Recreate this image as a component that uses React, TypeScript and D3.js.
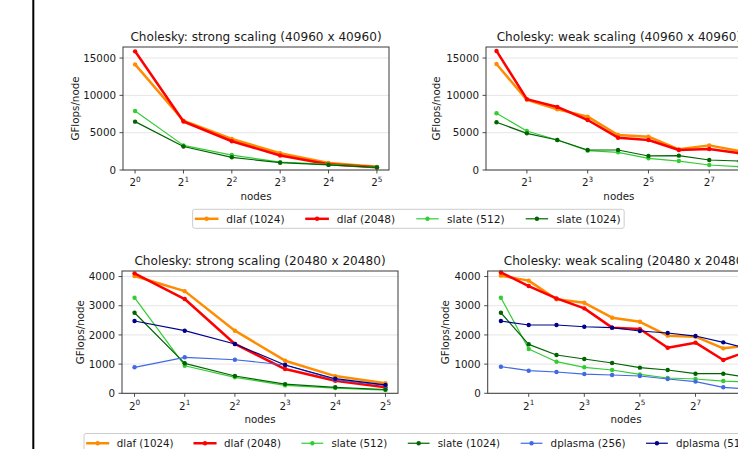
import React from 'react';
import * as d3 from 'd3';

const FONT = "'DejaVu Sans', 'Liberation Sans', sans-serif";

// ---- series meta ----
const seriesNames = ['dlaf (1024)', 'dlaf (2048)', 'slate (512)', 'slate (1024)', 'dplasma (256)', 'dplasma (512)'];
const seriesColors = ['#ff8c00', '#ff0000', '#32cd32', '#006400', '#4169e1', '#00008b'];
const seriesWidths = [2.5, 2.5, 1.2, 1.2, 1.2, 1.2];

// ---- x values (nodes) ----
const strongNodes = [1, 2, 4, 8, 16, 32];
const weak40Nodes = [1, 2, 4, 8, 16, 32, 64, 128, 256];
const weak20Nodes = [1, 2, 4, 8, 16, 32, 64, 128, 256, 512];

// ---- tick values ----
const strongXTicks = [1, 2, 4, 8, 16, 32];
const weak40XTicks = [2, 8, 32, 128];
const weak20XTicks = [2, 8, 32, 128];
const yTicks40 = [0, 5000, 10000, 15000];
const yTicks20 = [0, 1000, 2000, 3000, 4000];

// ---- Cholesky strong scaling (40960 x 40960) ----
const strong40_dlaf1024 = [14150, 6600, 4150, 2250, 950, 420];
const strong40_dlaf2048 = [15900, 6500, 3850, 1950, 780, 370];
const strong40_slate512 = [7900, 3300, 2000, 1050, 750, 380];
const strong40_slate1024 = [6480, 3150, 1700, 980, 680, 340];

// ---- Cholesky weak scaling (40960 x 40960) ----
const weak40_dlaf1024 = [14200, 9400, 8130, 7150, 4690, 4470, 2770, 3300, 2550];
const weak40_dlaf2048 = [15950, 9500, 8450, 6700, 4330, 4020, 2680, 2810, 2240];
const weak40_slate512 = [7600, 5230, 4020, 2590, 2370, 1560, 1200, 670, 440];
const weak40_slate1024 = [6390, 4910, 4020, 2680, 2680, 1880, 1920, 1340, 1200];

// ---- Cholesky strong scaling (20480 x 20480) ----
const strong20_dlaf1024 = [4020, 3500, 2145, 1117, 590, 342];
const strong20_dlaf2048 = [4110, 3230, 1690, 830, 430, 205];
const strong20_slate512 = [3275, 945, 548, 270, 180, 110];
const strong20_slate1024 = [2760, 1027, 592, 315, 205, 130];
const strong20_dplasma256 = [890, 1233, 1150, 970, 470, 270];
const strong20_dplasma512 = [2477, 2145, 1690, 970, 500, 290];

// ---- Cholesky weak scaling (20480 x 20480) ----
const weak20_dlaf1024 = [4030, 3860, 3220, 3100, 2590, 2450, 1975, 1940, 1540, 1650];
const weak20_dlaf2048 = [4140, 3675, 3250, 2910, 2250, 2200, 1560, 1735, 1140, 1480];
const weak20_slate512 = [3275, 1517, 1083, 890, 798, 650, 525, 490, 420, 380];
const weak20_slate1024 = [2760, 1678, 1312, 1175, 1038, 878, 798, 672, 672, 530];
const weak20_dplasma256 = [912, 775, 730, 660, 627, 593, 490, 400, 205, 140];
const weak20_dplasma512 = [2477, 2340, 2340, 2280, 2250, 2135, 2065, 1962, 1745, 1500];

type PanelSpec = {
  title: string;
  left: number; right: number; top: number; bottom: number;
  expMin: number; expMax: number;
  yMax: number;
  yTicks: number[];
  xTicks: number[];
  nodes: number[];
  series: number[][];
  ylabelOffset: number;
};

const panels: PanelSpec[] = [
  {
    title: 'Cholesky: strong scaling (40960 x 40960)',
    left: 123, right: 389, top: 47, bottom: 170,
    expMin: -0.25, expMax: 5.25, yMax: 16480, yTicks: yTicks40, xTicks: strongXTicks,
    nodes: strongNodes,
    series: [strong40_dlaf1024, strong40_dlaf2048, strong40_slate512, strong40_slate1024],
    ylabelOffset: 44.5,
  },
  {
    title: 'Cholesky: weak scaling (40960 x 40960)',
    left: 486, right: 751.8, top: 47, bottom: 170,
    expMin: -0.345, expMax: 8.4, yMax: 16480, yTicks: yTicks40, xTicks: weak40XTicks,
    nodes: weak40Nodes,
    series: [weak40_dlaf1024, weak40_dlaf2048, weak40_slate512, weak40_slate1024],
    ylabelOffset: 45.6,
  },
  {
    title: 'Cholesky: strong scaling (20480 x 20480)',
    left: 122, right: 398, top: 271, bottom: 393.3,
    expMin: -0.25, expMax: 5.25, yMax: 4190, yTicks: yTicks20, xTicks: strongXTicks,
    nodes: strongNodes,
    series: [strong20_dlaf1024, strong20_dlaf2048, strong20_slate512, strong20_slate1024, strong20_dplasma256, strong20_dplasma512],
    ylabelOffset: 38.3,
  },
  {
    title: 'Cholesky: weak scaling (20480 x 20480)',
    left: 487.7, right: 764.3, top: 271, bottom: 393.3,
    expMin: -0.475, expMax: 9.475, yMax: 4190, yTicks: yTicks20, xTicks: weak20XTicks,
    nodes: weak20Nodes,
    series: [weak20_dlaf1024, weak20_dlaf2048, weak20_slate512, weak20_slate1024, weak20_dplasma256, weak20_dplasma512],
    ylabelOffset: 39,
  },
];

let _ctx: CanvasRenderingContext2D | null = null;
function textWidth(s: string, size: number): number {
  if (!_ctx) {
    const c = document.createElement('canvas');
    _ctx = c.getContext('2d');
  }
  if (!_ctx) return s.length * size * 0.55;
  _ctx.font = `${size}px "DejaVu Sans"`;
  return _ctx.measureText(s).width;
}

const TEXT = '#1a1a1a';
const SPINE = '#3a3a3a';

function Panel({ p }: { p: PanelSpec }) {
  const x = d3.scaleLog().base(2).domain([Math.pow(2, p.expMin), Math.pow(2, p.expMax)]).range([p.left, p.right]);
  const y = d3.scaleLinear().domain([0, p.yMax]).range([p.bottom, p.top]);
  const line = d3.line<[number, number]>().x(d => x(d[0])).y(d => y(d[1]));
  const cx = (p.left + p.right) / 2;
  const cy = (p.top + p.bottom) / 2;
  const fs = 10.3;
  return (
    <g>
      {p.yTicks.map(t => (
        <line key={'g' + t} x1={p.left} x2={p.right} y1={y(t)} y2={y(t)} stroke="#e6e6e6" strokeWidth={1} />
      ))}
      {p.series.map((vals, i) => {
        const pts: [number, number][] = vals.map((v, j) => [p.nodes[j], v]);
        return (
          <g key={'s' + i}>
            <path d={line(pts) || ''} fill="none" stroke={seriesColors[i]} strokeWidth={seriesWidths[i]} strokeLinejoin="round" />
            {pts.map((pt, j) => (
              <circle key={j} cx={x(pt[0])} cy={y(pt[1])} r={2.2} fill={seriesColors[i]} />
            ))}
          </g>
        );
      })}
      <rect x={p.left} y={p.top} width={p.right - p.left} height={p.bottom - p.top} fill="none" stroke={SPINE} strokeWidth={1} />
      {p.yTicks.map(t => (
        <g key={'y' + t}>
          <line x1={p.left - 3.5} x2={p.left} y1={y(t)} y2={y(t)} stroke={SPINE} strokeWidth={0.9} />
          <text x={p.left - 7} y={y(t) + 3.7} textAnchor="end" fontSize={fs} fill={TEXT} fontFamily={FONT}>{t}</text>
        </g>
      ))}
      {p.xTicks.map(t => (
        <g key={'x' + t}>
          <line x1={x(t)} x2={x(t)} y1={p.bottom} y2={p.bottom + 3.5} stroke={SPINE} strokeWidth={0.9} />
          <text x={x(t)} y={p.bottom + 16.3} textAnchor="middle" fontSize={fs} fill={TEXT} fontFamily={FONT}>
            2<tspan dy={-4.8} fontSize={7.3}>{Math.round(Math.log2(t))}</tspan>
          </text>
        </g>
      ))}
      <text x={cx} y={p.bottom + 29.6} textAnchor="middle" fontSize={fs} fill={TEXT} fontFamily={FONT}>nodes</text>
      <text transform={`translate(${p.left - p.ylabelOffset},${cy}) rotate(-90)`} textAnchor="middle" fontSize={fs} fill={TEXT} fontFamily={FONT}>GFlops/node</text>
      <text x={cx} y={p.top - 6} textAnchor="middle" fontSize={12.1} fill={TEXT} fontFamily={FONT}>{p.title}</text>
    </g>
  );
}

function Legend({ count, fs, left, center, top, height }: { count: number; fs: number; left?: number; center?: number; top: number; height: number }) {
  const handle = 2 * fs;
  const pad = 0.85 * fs;
  const col = 2.05 * fs;
  const border = 3.4;
  const items = seriesNames.slice(0, count);
  const widths = items.map(s => textWidth(s, fs));
  const total = border * 2 + widths.reduce((a, w) => a + handle + pad + w, 0) + col * (count - 1);
  const x0 = left !== undefined ? left : (center as number) - total / 2;
  let cur = x0 + border;
  const ty = top + height / 2;
  const entries = items.map((s, i) => {
    const hx = cur;
    cur += handle + pad + widths[i] + col;
    return (
      <g key={s}>
        <line x1={hx} x2={hx + handle} y1={ty} y2={ty} stroke={seriesColors[i]} strokeWidth={seriesWidths[i]} strokeLinecap="square" />
        <circle cx={hx + handle / 2} cy={ty} r={2.2} fill={seriesColors[i]} />
        <text x={hx + handle + pad} y={ty + 3.7} fontSize={fs} fill={TEXT} fontFamily={FONT}>{s}</text>
      </g>
    );
  });
  return (
    <g>
      <rect x={x0} y={top} width={total} height={height} rx={2} ry={2} fill="#fff" stroke="#cccccc" strokeWidth={1} />
      {entries}
    </g>
  );
}

export default function App() {
  return (
    <div style={{ position: 'fixed', left: 0, top: 0, width: 738, height: 449, overflow: 'hidden', background: '#fff' }}>
      <svg width={738} height={449} viewBox="0 0 738 449" style={{ display: 'block' }}>
        <rect x={0} y={0} width={738} height={449} fill="#fff" />
        <rect x={32.3} y={0} width={2} height={449} fill="#000" />
        {panels.map((p, i) => <Panel key={i} p={p} />)}
        <Legend count={4} fs={10.6} center={408.4} top={209.3} height={19} />
        <Legend count={6} fs={10.3} left={84} top={433.5} height={19.5} />
      </svg>
    </div>
  );
}
